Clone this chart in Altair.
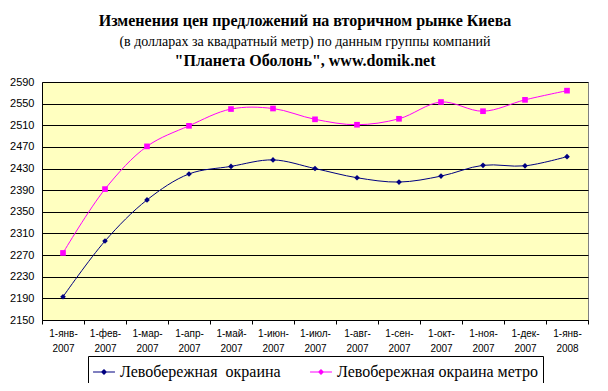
import altair as alt
import pandas as pd

months = ["1-янв-|2007", "1-фев-|2007", "1-мар-|2007", "1-апр-|2007", "1-май-|2007",
          "1-июн-|2007", "1-июл-|2007", "1-авг-|2007", "1-сен-|2007", "1-окт-|2007",
          "1-ноя-|2007", "1-дек-|2007", "1-янв-|2008"]
series_names = ["Левобережная\u00a0 окраина", "Левобережная окраина метро"]
okraina = [2193, 2296, 2372, 2420, 2434, 2446, 2430, 2413, 2405, 2416, 2436, 2435, 2452]
metro = [2274, 2392, 2471, 2509, 2540, 2541, 2521, 2511, 2522, 2553, 2536, 2557, 2574]
y_ticks = list(range(2150, 2591, 40))
colors = ["#000080", "#FF00FF"]
shapes = ["diamond", "square"]
title_lines = ["Изменения цен предложений на вторичном рынке Киева",
               "(в долларах за квадратный метр) по данным группы компаний",
               "\"Планета Оболонь\", www.domik.net"]

rows = []
for name, vals in zip(series_names, [okraina, metro]):
    for m, v in zip(months, vals):
        rows.append({"month": m, "series": name, "value": v})
df = pd.DataFrame(rows)

W, H = 546, 238
SERIF = "Liberation Serif, Times New Roman, serif"

x_enc = alt.X("month:N", sort=months, bandPosition=0.5,
              scale=alt.Scale(type="band", paddingInner=0, paddingOuter=0),
              axis=alt.Axis(title=None, labelAngle=0, tickBand="extent",
                            labelExpr="split(datum.label, '|')",
                            labelFont="Arial", labelFontSize=10, labelColor="#000000",
                            labelLineHeight=15, labelPadding=4,
                            tickColor="#000000", tickSize=4,
                            domainColor="#000000", grid=False))
y_enc = alt.Y("value:Q",
              scale=alt.Scale(domain=[2150, 2590], nice=False, zero=False),
              axis=alt.Axis(title=None, values=y_ticks, grid=True, gridColor="#000000",
                            gridOpacity=1, gridWidth=1, ticks=False, labelPadding=8,
                            format="d",
                            labelFont="Arial", labelFontSize=11, labelColor="#000000",
                            domainColor="#000000"))
color_scale = alt.Scale(domain=series_names, range=colors)
color_enc = alt.Color("series:N", sort=series_names, scale=color_scale,
                      legend=alt.Legend(title=None, orient="none", legendX=46, legendY=274,
                                        direction="horizontal", strokeColor="#000000",
                                        padding=4, labelFont=SERIF,
                                        labelFontSize=16, labelColor="#000000",
                                        labelLimit=400,
                                        symbolType="M-1,0H1M-0.2,0L0,-0.2L0.2,0L0,0.2Z",
                                        symbolSize=480, symbolStrokeWidth=1.2,
                                        columnPadding=26, labelOffset=4))

lines = alt.Chart(df).mark_line(interpolate="catmull-rom", strokeWidth=1).encode(
    x=x_enc, y=y_enc, color=color_enc)

point_layers = []
for name, shp in zip(series_names, shapes):
    point_layers.append(
        alt.Chart(df).transform_filter(alt.datum.series == name)
        .mark_point(filled=True, size=32, opacity=1, shape=shp)
        .encode(x=x_enc, y=y_enc,
                color=alt.Color("series:N", sort=series_names, scale=color_scale, legend=None)))

def title_text(txt, y, size, weight):
    return alt.Chart(pd.DataFrame({"t": [txt]})).mark_text(
        font=SERIF, fontSize=size, fontWeight=weight, color="#000000",
        align="center", baseline="middle").encode(
        text="t:N", x=alt.value(263), y=alt.value(y))

t1 = title_text(title_lines[0], -61, 16, "bold")
t2 = title_text(title_lines[1], -40, 14, "normal")
t3 = title_text(title_lines[2], -21, 16, "bold")

chart = alt.layer(lines, *point_layers, t1, t2, t3).properties(
    width=W, height=H,
    autosize=alt.AutoSizeParams(type="none"),
    padding={"left": 34, "top": 74, "right": 12, "bottom": 63},
    background="#FFFFFF"
).configure_view(stroke="#808080", fill="#FFFFC0", strokeWidth=1
).configure_legend(labelFont=SERIF)

chart.save("out.html", embed_options={"renderer": "svg", "actions": False})
